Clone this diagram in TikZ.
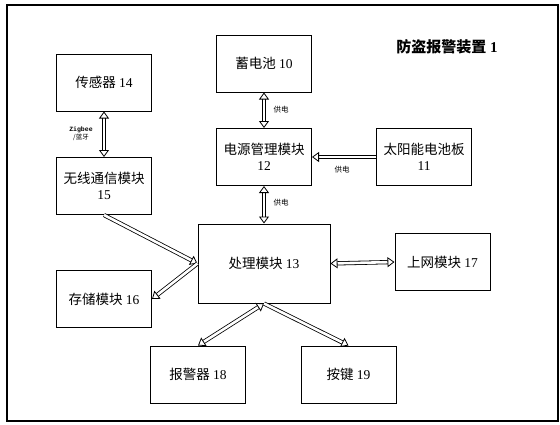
\documentclass[tikz,border=0pt]{standalone}
\usepackage{fontspec}
\setmainfont{Liberation Serif}
\newfontfamily\cjk{Noto Sans CJK SC}
\newfontfamily\zigfont{Liberation Mono}
\usetikzlibrary{arrows.meta}
\newcommand{\zh}[1]{{\cjk #1}}
\tikzset{
  >={Triangle[open, length=7pt, width=10pt]},
  blk/.style={draw, line width=1pt, minimum width=95pt, minimum height=57pt,
    align=center, font=\fontsize{13.5}{16}\selectfont, inner sep=0pt},
  hollow/.style={double, double distance=2.6pt, line width=0.8pt},
  tag/.style={font=\fontsize{7.5}{9}\selectfont\cjk},
}
\begin{document}
\begin{tikzpicture}[x=1pt,y=-1pt]
  \useasboundingbox (0,0) rectangle (560,424);
  \draw[line width=1.2pt] (7,5) rectangle (558,421);
  \node[font=\fontsize{15}{18}\selectfont\bfseries] (title) at (447,47) {\zh{防盗报警装置} 1};

  % boxes
  \node[blk] (sensor)  at (104,82.5) {\zh{传感器} 14};
  \node[blk] (wifi)    at (104,186)  {\zh{无线通信模块}\\15};
  \node[blk] (battery) at (264,63.5)   {\zh{蓄电池} 10};
  \node[blk] (power)   at (264,157)  {\zh{电源管理模块}\\12};
  \node[blk] (solar)   at (424,157)  {\zh{太阳能电池板}\\11};
  \node[blk, minimum width=132pt, minimum height=79pt] (cpu) at (264,263.5) {\zh{处理模块} 13};
  \node[blk] (store)   at (104,299)  {\zh{存储模块} 16};
  \node[blk] (net)     at (442.5,262)  {\zh{上网模块} 17};
  \node[blk] (alarm)   at (198,374.5)  {\zh{报警器} 18};
  \node[blk] (key)     at (348.5,374.5) {\zh{按键} 19};

  % links
  \draw[hollow, <->] (sensor) -- (wifi);
  \draw[hollow, <->] (battery) -- (power);
  \draw[hollow, ->] (solar) -- (power);
  \draw[hollow, <->] (power) -- (cpu);
  \draw[hollow, ->] (wifi.south) -- (cpu.west);
  \draw[hollow, ->] (cpu.west) -- (store.east);
  \draw[hollow, <->] (cpu.east) -- (net.west);
  \draw[hollow, <->] (cpu.south) -- (alarm.north);
  \draw[hollow, ->] (cpu.south) -- (key.north);

  % labels
  \node[font=\fontsize{6.5}{8}\selectfont, align=center] (zig) at (81,134) {\zigfont\bfseries Zigbee\\\zh{/蓝牙}};
  \node[tag] (feed1) at (281,110) {供电};
  \node[tag] (feed2) at (342,170) {供电};
  \node[tag] (feed3) at (281,203) {供电};
\end{tikzpicture}
\end{document}
